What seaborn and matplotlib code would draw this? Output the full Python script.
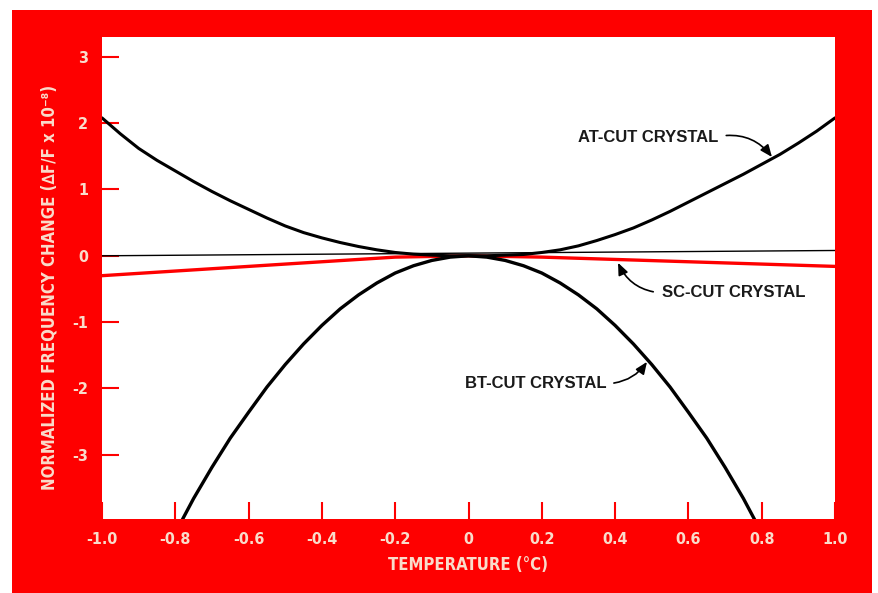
import numpy as np
import pandas as pd
import matplotlib
matplotlib.use("Agg")
import matplotlib.pyplot as plt
from matplotlib.patches import Rectangle
from matplotlib.font_manager import FontProperties
import seaborn as sns

# ---- data ----
at_x = [-1.0, -0.95, -0.9, -0.85, -0.8, -0.75, -0.7, -0.65, -0.6, -0.55, -0.5,
        -0.45, -0.4, -0.35, -0.3, -0.25, -0.2, -0.15, -0.1, -0.05, 0.0,
        0.05, 0.1, 0.15, 0.2, 0.25, 0.3, 0.35, 0.4, 0.45, 0.5,
        0.55, 0.6, 0.65, 0.7, 0.75, 0.8, 0.85, 0.9, 0.95, 1.0]
at_y = [2.08, 1.84, 1.62, 1.44, 1.28, 1.12, 0.97, 0.83, 0.70, 0.57, 0.45,
        0.35, 0.27, 0.20, 0.14, 0.09, 0.05, 0.025, 0.01, 0.0, 0.0,
        0.0, 0.01, 0.02, 0.05, 0.09, 0.15, 0.23, 0.32, 0.42, 0.54,
        0.67, 0.81, 0.95, 1.09, 1.23, 1.38, 1.53, 1.70, 1.88, 2.08]

bt_x = [-0.80, -0.75, -0.70, -0.65, -0.60, -0.55, -0.50, -0.45, -0.40, -0.35,
        -0.30, -0.25, -0.20, -0.15, -0.10, -0.05, 0.0, 0.05, 0.10, 0.15, 0.20,
        0.25, 0.30, 0.35, 0.40, 0.45, 0.50, 0.55, 0.60, 0.65, 0.70, 0.75, 0.80]
bt_y = [-4.18, -3.66, -3.19, -2.75, -2.36, -1.98, -1.64, -1.33, -1.05, -0.80,
        -0.59, -0.41, -0.26, -0.15, -0.07, -0.02, 0.0, -0.02, -0.07, -0.15, -0.26,
        -0.41, -0.59, -0.80, -1.05, -1.33, -1.64, -1.98, -2.36, -2.75, -3.19, -3.66, -4.18]

sc_x = [-1.0, -0.2, 0.0, 0.2, 1.0]
sc_y = [-0.30, -0.02, 0.0, -0.02, -0.16]

ref_x = [-1.0, 1.0]
ref_y = [0.0, 0.08]

x_ticks = [-1.0, -0.8, -0.6, -0.4, -0.2, 0.0, 0.2, 0.4, 0.6, 0.8, 1.0]
x_tick_labels = ["-1.0", "-0.8", "-0.6", "-0.4", "-0.2", "0", "0.2", "0.4", "0.6", "0.8", "1.0"]
y_ticks = [3, 2, 1, 0, -1, -2, -3]
y_tick_labels = ["3", "2", "1", "0", "-1", "-2", "-3"]

labels = ["AT-CUT CRYSTAL", "SC-CUT CRYSTAL", "BT-CUT CRYSTAL"]
x_title = "TEMPERATURE (°C)"
y_title = "NORMALIZED FREQUENCY CHANGE (∆F/F x 10⁻⁸)"

# ---- styling ----
sns.set_theme(style="white")
plt.rcParams["font.family"] = ["Liberation Sans", "DejaVu Sans"]
RED = "#fe0000"
PALE = "#f9dccb"

cond = FontProperties(family="DejaVu Sans", stretch="condensed", weight="bold", size=11.5)
cond_lab = FontProperties(family="DejaVu Sans", stretch="condensed", weight="bold", size=12)

fig = plt.figure(figsize=(8.79, 5.93), dpi=100, facecolor="white")
bg = Rectangle((12 / 879, 0), 860 / 879, 583 / 593,
               transform=fig.transFigure, facecolor=RED,
               edgecolor="none", zorder=-10)
fig.add_artist(bg)
ax = fig.add_axes([102 / 879, 74 / 593, 733 / 879, 482 / 593])
ax.set_zorder(5)
ax.set_facecolor("white")

df_at = pd.DataFrame({"x": at_x, "y": at_y})
df_bt = pd.DataFrame({"x": bt_x, "y": bt_y})
df_sc = pd.DataFrame({"x": sc_x, "y": sc_y})
df_ref = pd.DataFrame({"x": ref_x, "y": ref_y})

sns.lineplot(data=df_ref, x="x", y="y", ax=ax, color="black", linewidth=1.0,
             estimator=None, sort=False)
sns.lineplot(data=df_sc, x="x", y="y", ax=ax, color=RED, linewidth=2.4,
             estimator=None, sort=False)
sns.lineplot(data=df_at, x="x", y="y", ax=ax, color="black", linewidth=2.2,
             estimator=None, sort=False)
sns.lineplot(data=df_bt, x="x", y="y", ax=ax, color="black", linewidth=2.4,
             estimator=None, sort=False)

ax.set_xlim(-1.0, 1.0)
ax.set_ylim(-3.97, 3.30)
for s in ax.spines.values():
    s.set_visible(False)

ax.set_xticks(x_ticks)
ax.set_xticklabels(x_tick_labels)
ax.set_yticks(y_ticks)
ax.set_yticklabels(y_tick_labels)
ax.tick_params(axis="both", direction="in", length=12, width=1.5, color=RED,
               labelcolor=PALE, bottom=True, left=True)
ax.tick_params(axis="x", pad=9)
ax.tick_params(axis="y", pad=10)
for t in ax.get_xticklabels() + ax.get_yticklabels():
    t.set_fontproperties(cond)

ax.set_xlabel(x_title, color=PALE, fontproperties=cond_lab)
ax.set_ylabel(y_title, color=PALE, fontproperties=cond_lab)
ax.xaxis.set_label_coords(0.5, -0.077)
ax.yaxis.set_label_coords(-0.06, 0.48)

ann_kw = dict(fontsize=12, fontweight="bold", color="#1a1a1a", va="center", ha="left")
ax.annotate(labels[0], xy=(0.828, 1.49), xytext=(0.30, 1.79),
            arrowprops=dict(arrowstyle="-|>,head_length=0.6,head_width=0.25", color="black",
                            lw=1.2, connectionstyle="arc3,rad=-0.3",
                            shrinkA=3, shrinkB=0, relpos=(1.0, 0.55)),
            **ann_kw)
ax.annotate(labels[1], xy=(0.408, -0.105), xytext=(0.528, -0.56),
            arrowprops=dict(arrowstyle="-|>,head_length=0.6,head_width=0.25", color="black",
                            lw=1.2, connectionstyle="arc3,rad=-0.3",
                            shrinkA=4, shrinkB=0, relpos=(0.0, 0.5)),
            **ann_kw)
ax.annotate(labels[2], xy=(0.487, -1.60), xytext=(-0.01, -1.93),
            arrowprops=dict(arrowstyle="-|>,head_length=0.6,head_width=0.25", color="black",
                            lw=1.2, connectionstyle="arc3,rad=0.25",
                            shrinkA=3, shrinkB=0, relpos=(1.0, 0.5)),
            **ann_kw)

fig.savefig("out.png", dpi=100, facecolor="white")
